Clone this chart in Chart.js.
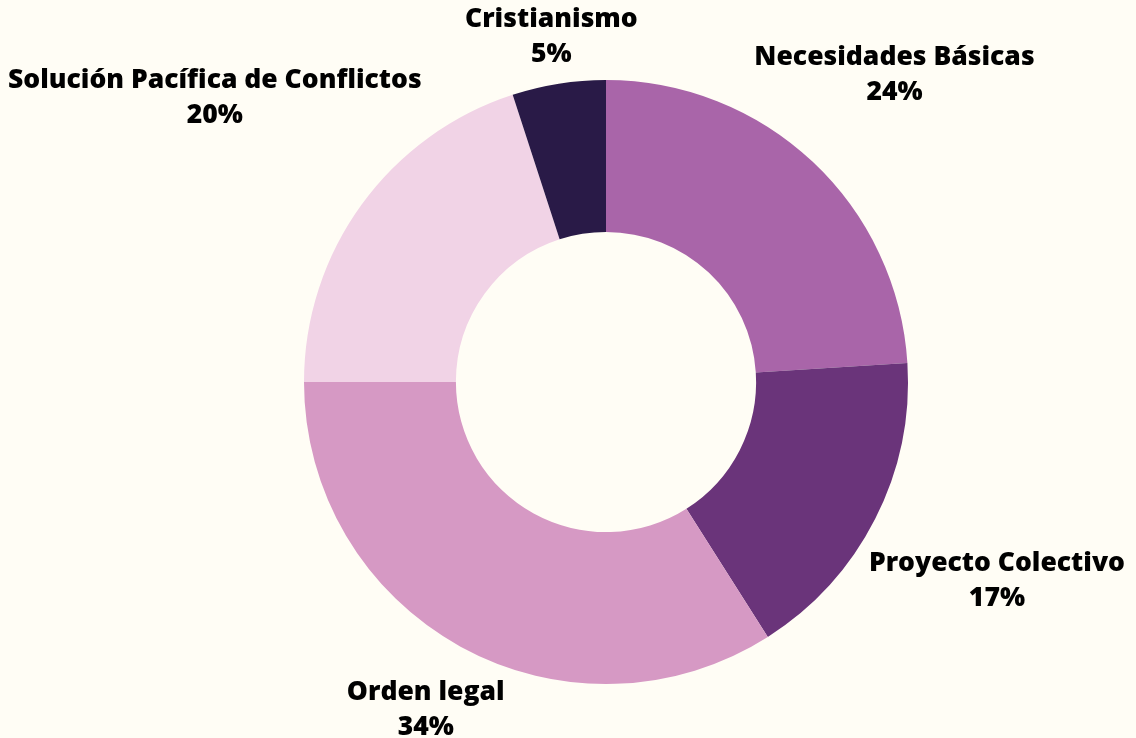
<!DOCTYPE html>
<html>
<head>
<meta charset="utf-8">
<script src="https://cdn.jsdelivr.net/npm/chart.js@4/dist/chart.umd.min.js"></script>
<style>
html,body{margin:0;padding:0;background:#FFFDF5;}
#wrap{width:1136px;height:738px;position:relative;}
</style>
</head>
<body>
<div id="wrap"><canvas id="c" width="1136" height="738"></canvas></div>
<script>
const categories = ["Necesidades Básicas", "Proyecto Colectivo", "Orden legal", "Solución Pacífica de Conflictos", "Cristianismo"];
const values = [24, 17, 34, 20, 5];
const colors = ["#A965A9", "#6A347A", "#D699C4", "#F1D3E6", "#291A47"];

const FONT = "800 26.5px 'Open Sans'";

const outsideLabels = {
  id: 'outsideLabels',
  afterDraw(chart) {
    const ctx = chart.ctx;
    const meta = chart.getDatasetMeta(0);
    const total = values.reduce((a, b) => a + b, 0);
    ctx.save();
    ctx.font = FONT;
    ctx.fillStyle = '#000';
    ctx.textAlign = 'center';
    ctx.textBaseline = 'middle';
    const lineH = 35;
    meta.data.forEach((arc, i) => {
      const p = arc.getProps(['x', 'y', 'startAngle', 'endAngle', 'outerRadius'], true);
      const mid = (p.startAngle + p.endAngle) / 2;
      const ux = Math.cos(mid), uy = Math.sin(mid);
      const l1 = categories[i];
      const l2 = Math.round(values[i] / total * 100) + '%';
      const w = Math.max(ctx.measureText(l1).width, ctx.measureText(l2).width);
      const h = lineH * 2;
      const target = p.outerRadius + 8;
      let lo = 0, hi = 2000;
      for (let k = 0; k < 60; k++) {
        const t = (lo + hi) / 2;
        const cx = ux * t, cy = uy * t;
        const nx = Math.max(0, Math.abs(cx) - w / 2);
        const ny = Math.max(0, Math.abs(cy) - h / 2);
        if (Math.hypot(nx, ny) < target) lo = t; else hi = t;
      }
      const cx = p.x + ux * hi, cy = p.y + uy * hi;
      ctx.fillText(l1, cx, cy - lineH / 2);
      ctx.fillText(l2, cx, cy + lineH / 2);
    });
    ctx.restore();
  }
};

new Chart(document.getElementById('c'), {
  type: 'doughnut',
  data: {
    labels: categories,
    datasets: [{
      data: values,
      backgroundColor: colors,
      borderWidth: 0,
      hoverOffset: 0
    }]
  },
  options: {
    responsive: false,
    animation: false,
    cutout: '49.7%',
    layout: { padding: { top: 80, bottom: 54, left: 76, right: 0 } },
    plugins: { legend: { display: false }, tooltip: { enabled: false } }
  },
  plugins: [outsideLabels]
});
</script>
</body>
</html>
